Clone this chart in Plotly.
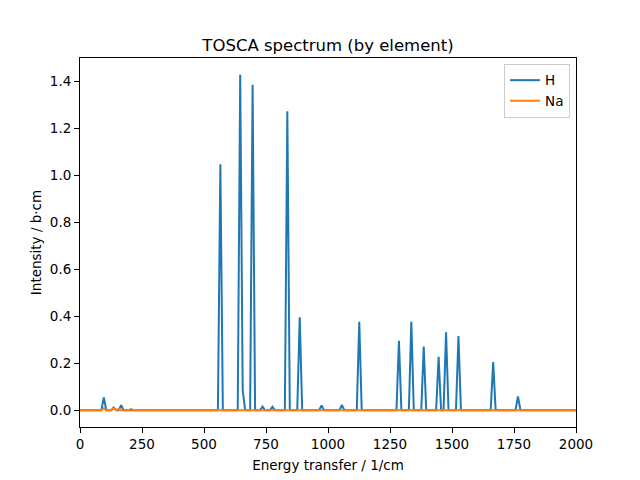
import plotly.graph_objects as go

# Spectrum vertices (energy in 1/cm, intensity in b·cm)
h_energy = [0, 86, 96, 106, 126, 136, 146, 156, 166, 176,
            556, 566, 576, 636, 646, 656, 666, 686, 696, 706,
            726, 736, 746, 766, 776, 786, 826, 836, 846, 876, 886, 896,
            964, 974, 984, 1046, 1056, 1066, 1116, 1126, 1136,
            1276, 1286, 1296, 1326, 1336, 1346, 1376, 1386, 1396,
            1436, 1446, 1456, 1466, 1476, 1486, 1516, 1526, 1536,
            1656, 1666, 1676, 1756, 1766, 1776, 2100]
h_intensity = [0, 0, 0.054, 0, 0, 0.012, 0, 0, 0.022, 0,
               0, 1.047, 0, 0, 1.428, 0.085, 0, 0, 1.386, 0,
               0, 0.016, 0, 0, 0.015, 0, 0, 1.273, 0, 0, 0.396, 0,
               0, 0.020, 0, 0, 0.023, 0, 0, 0.376, 0,
               0, 0.296, 0, 0, 0.377, 0, 0, 0.271, 0,
               0, 0.227, 0, 0, 0.332, 0, 0, 0.316, 0,
               0, 0.205, 0, 0, 0.059, 0, 0]

na_energy = [0, 86, 96, 106, 126, 136, 146, 156, 166, 196, 206, 216, 2100]
na_intensity = [0, 0, 0.008, 0, 0, 0.008, 0, 0.006, 0, 0, 0.006, 0, 0]

x_ticks = [0, 250, 500, 750, 1000, 1250, 1500, 1750, 2000]
y_ticks = [0.0, 0.2, 0.4, 0.6, 0.8, 1.0, 1.2, 1.4]

font = "DejaVu Sans"

fig = go.Figure()
fig.add_trace(go.Scatter(x=h_energy, y=h_intensity, mode='lines', name='H',
                         line=dict(color='#1f77b4', width=2)))
fig.add_trace(go.Scatter(x=na_energy, y=na_intensity, mode='lines', name='Na',
                         line=dict(color='#ff7f0e', width=2)))

axis_style = dict(showgrid=False, zeroline=False, showline=True, mirror=True,
                  linecolor='black', linewidth=1, ticks='outside', ticklen=5,
                  tickwidth=1, tickcolor='black',
                  tickfont=dict(family=font, size=13.5, color='black'))

# the page body adds an 8px offset, so margins are shifted to compensate
fig.update_layout(
    width=640, height=480,
    margin=dict(l=72, r=72, t=50, b=61),
    paper_bgcolor='white', plot_bgcolor='white',
    font=dict(family=font, color='black'),
    title=dict(text="TOSCA spectrum (by element)", x=0.5, xref='paper',
               y=1, yref='paper', yanchor='bottom', pad=dict(b=7),
               font=dict(family=font, size=16.5, color='black')),
    legend=dict(x=0.988, y=0.984, xanchor='right', yanchor='top',
                bordercolor='#cccccc', borderwidth=1, bgcolor='white',
                font=dict(family=font, size=13.5, color='black'),
                tracegroupgap=2),
    showlegend=True,
)
fig.update_xaxes(range=[0, 2000], tickvals=x_ticks,
                 title=dict(text="Energy transfer / 1/cm", standoff=9,
                            font=dict(family=font, size=13.5)),
                 **axis_style)
fig.update_yaxes(range=[-0.0714, 1.4994], tickvals=y_ticks, tickformat='.1f',
                 title=dict(text="Intensity / b·cm", standoff=5,
                            font=dict(family=font, size=13.5)),
                 **axis_style)

fig.write_html("out.html")
